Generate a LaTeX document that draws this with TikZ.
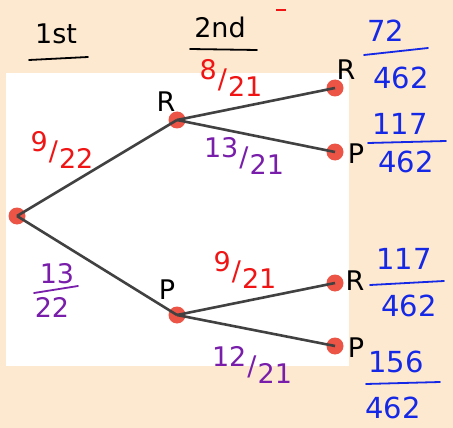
\documentclass[tikz,border=0pt]{standalone}
\usepackage{fontspec}
\setmainfont{DejaVu Sans}
\definecolor{bg}{RGB}{253,232,208}
\definecolor{dot}{RGB}{236,84,70}
\definecolor{branch}{RGB}{65,65,65}
\definecolor{pred}{RGB}{240,20,20}
\definecolor{ppurple}{RGB}{120,30,170}
\definecolor{pblue}{RGB}{20,40,230}
\newcommand\hwfrac[2]{\raisebox{0.3em}{#1}\kern0.04em/\kern0.04em\raisebox{-0.3em}{#2}}
\begin{document}
\begin{tikzpicture}[x=1pt,y=-1pt,
  dotnode/.style={circle,fill=dot,inner sep=0pt,minimum size=17pt},
  branchline/.style={draw=branch,line width=2.6pt},
  hw/.style={font=\fontsize{27}{29}\selectfont,inner sep=0pt},
  redlab/.style={hw,text=pred},
  purplab/.style={hw,text=ppurple},
  blacklab/.style={hw,text=black},
  bluenum/.style={font=\fontsize{29}{31}\selectfont,inner sep=0pt,text=pblue},
  barline/.style={line width=1.8pt,line cap=round}]
\useasboundingbox (0,0) rectangle (453,428);
\fill[bg] (0,0) rectangle (453,428);
\fill[white] (6,73) rectangle (349,366);
% headings
\node[blacklab] (h1) at (56,34) {1st};
\draw[barline] (29,60) -- (88,57);
\node[blacklab] (h2) at (220,27) {2nd};
\draw[barline] (190,49) -- (257,50);
\draw[pred,line width=1.2pt] (276,10) -- (286,10);
% nodes
\node[dotnode] (root) at (17,216) {};
\node[dotnode] (r1) at (177,120) {};
\node[dotnode] (p1) at (177,315) {};
\node[dotnode] (rr) at (335,88) {};
\node[dotnode] (rp) at (335,152) {};
\node[dotnode] (pr) at (335,283) {};
\node[dotnode] (pp) at (335,346) {};
% branches
\draw[branchline] (root.center) -- (r1.center);
\draw[branchline] (root.center) -- (p1.center);
\draw[branchline] (r1.center) -- (rr.center);
\draw[branchline] (r1.center) -- (rp.center);
\draw[branchline] (p1.center) -- (pr.center);
\draw[branchline] (p1.center) -- (pp.center);
% state labels
\node[blacklab] (lr1) at (166,102) {R};
\node[blacklab] (lp1) at (167,290) {P};
\node[blacklab] (lrr) at (346,70) {R};
\node[blacklab] (lrp) at (356,154) {P};
\node[blacklab] (lpr) at (355,281) {R};
\node[blacklab] (lpp) at (356,348) {P};
% branch probabilities
\node[redlab] (b1) at (62,150) {\hwfrac{9}{22}};
\node[purplab] (b2n) at (57,274) {13};
\draw[barline,ppurple] (34,293) -- (78,286);
\node[purplab] (b2d) at (52,307) {22};
\node[redlab] (b3) at (231,78) {\hwfrac{8}{21}};
\node[purplab] (b4) at (244,156) {\hwfrac{13}{21}};
\node[redlab] (b5) at (245,270) {\hwfrac{9}{21}};
\node[purplab] (b6) at (252,365) {\hwfrac{12}{21}};
% outcome probabilities
\node[bluenum] (o1n) at (386,31) {72};
\draw[barline,pblue] (364,55) -- (428,48);
\node[bluenum] (o1d) at (401,78) {462};
\node[bluenum] (o2n) at (400,124) {117};
\draw[barline,pblue] (368,143) -- (446,141);
\node[bluenum] (o2d) at (406,162) {462};
\node[bluenum] (o3n) at (404,259) {117};
\draw[barline,pblue] (370,285) -- (444,281);
\node[bluenum] (o3d) at (409,306) {462};
\node[bluenum] (o4n) at (396,362) {156};
\draw[barline,pblue] (366,384) -- (440,382);
\node[bluenum] (o4d) at (393,408) {462};
\end{tikzpicture}
\end{document}
